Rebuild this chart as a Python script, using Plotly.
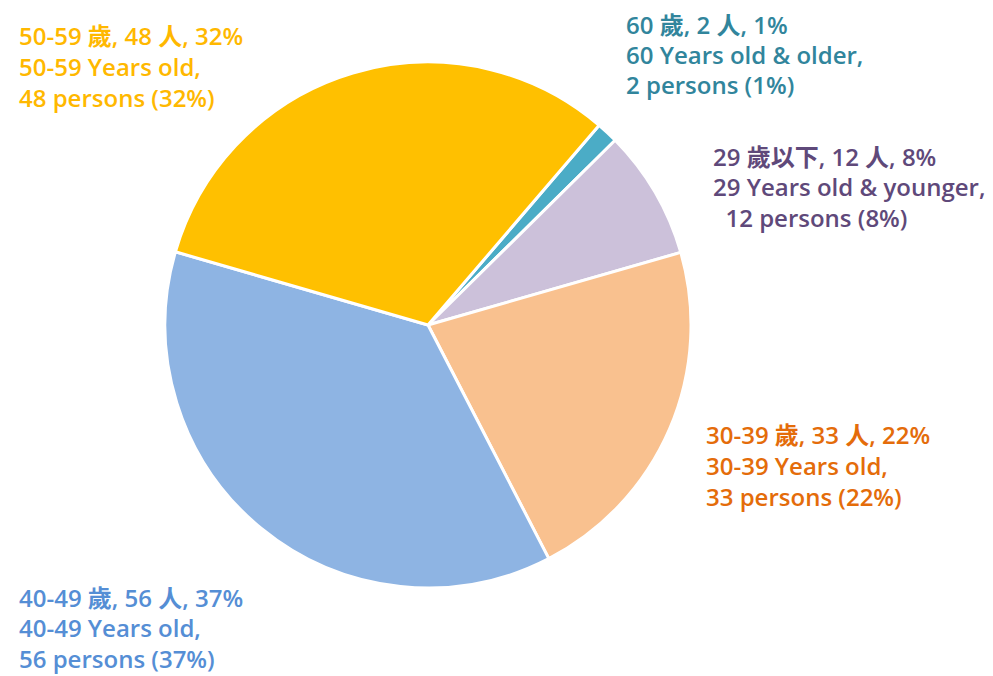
import plotly.graph_objects as go

categories = ["60 Years old & older", "29 Years old & younger", "30-39 Years old", "40-49 Years old", "50-59 Years old"]
values = [2, 12, 33, 56, 48]
slice_colors = ["#4BACC6", "#CCC1DA", "#F9C18F", "#8EB4E3", "#FFC000"]

label_lines = [
    ["60 歲, 2 人, 1%", "60 Years old & older,", "2 persons (1%)"],
    ["29 歲以下, 12 人, 8%", "29 Years old & younger,", "  12 persons (8%)"],
    ["30-39 歲, 33 人, 22%", "30-39 Years old,", "33 persons (22%)"],
    ["40-49 歲, 56 人, 37%", "40-49 Years old,", "56 persons (37%)"],
    ["50-59 歲, 48 人, 32%", "50-59 Years old,", "48 persons (32%)"],
]
label_colors = ["#31859C", "#5F497A", "#E46C0A", "#558ED5", "#FFB800"]
# label block anchor (left x px, first line center y px) in page coordinates
label_pos = [(625, 24), (712, 156), (705, 435), (18, 597), (18, 36)]

W, H = 993, 676
OFF = 8  # page body margin
cx, cy, r = 428 - OFF, 325 - OFF, 263

fig = go.Figure(go.Pie(
    labels=categories,
    values=values,
    sort=False,
    direction="clockwise",
    rotation=40.6,
    marker=dict(colors=slice_colors, line=dict(color="white", width=3)),
    textinfo="none",
    hoverinfo="label+value+percent",
    domain=dict(x=[(cx - r) / W, (cx + r) / W], y=[1 - (cy + r) / H, 1 - (cy - r) / H]),
    showlegend=False,
))

annotations = []
for lines, col, (lx, ly) in zip(label_lines, label_colors, label_pos):
    for i, t in enumerate(lines):
        annotations.append(dict(
            text=t.replace(" ", "&nbsp;") if t.startswith(" ") else t,
            x=(lx - OFF) / W, y=1 - (ly - OFF + i * 30.5) / H,
            xref="paper", yref="paper", xanchor="left", yanchor="middle",
            showarrow=False, borderpad=0,
            font=dict(family="Open Sans, Noto Sans CJK TC", size=24, color=col, weight=600),
        ))

fig.update_layout(
    width=W, height=H,
    margin=dict(l=0, r=0, t=0, b=0),
    paper_bgcolor="white", plot_bgcolor="white",
    annotations=annotations,
)
fig.write_html("out.html")
